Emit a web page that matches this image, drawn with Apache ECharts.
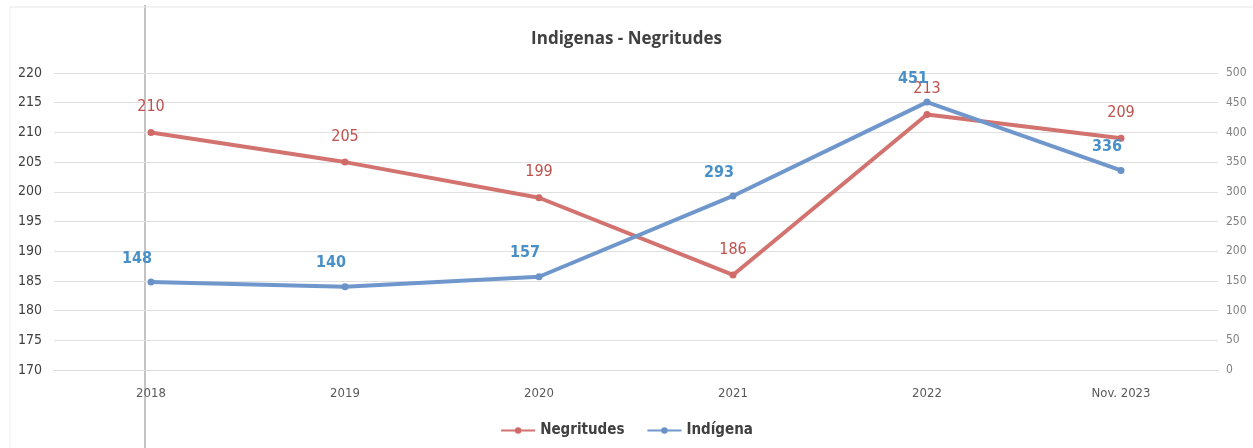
<!DOCTYPE html>
<html><head><meta charset="utf-8">
<script src="https://cdn.jsdelivr.net/npm/echarts@6/dist/echarts.min.js"></script>
<style>html,body{margin:0;padding:0;background:#fff}#c{width:1253px;height:448px}</style>
</head><body><div id="c"></div>
<script>
const categories = ['2018', '2019', '2020', '2021', '2022', 'Nov. 2023'];
const negritudes = [210, 205, 199, 186, 213, 209];
const indigena = [148, 140, 157, 293, 451, 336];
const titleText = 'Indigenas - Negritudes';

const FONT = '"Liberation Sans Narrow", "DejaVu Sans Condensed", "Open Sans", sans-serif';
const chart = echarts.init(document.getElementById('c'));
chart.setOption({
  backgroundColor: '#fff',
  animation: false,
  title: { text: titleText, left: 'center', top: 26,
    textStyle: { fontFamily: '"Open Sans", sans-serif', fontSize: 17, fontWeight: 'bold', color: '#404040' } },
  legend: { bottom: 5, left: 'center', itemWidth: 34, itemHeight: 8, itemGap: 22,
    textStyle: { fontFamily: FONT, fontSize: 15, fontWeight: 'bold', color: '#404040' },
    data: ['Negritudes', 'Indígena'] },
  grid: { left: 54, right: 35, top: 73, bottom: 78 },
  xAxis: { type: 'category', data: categories, boundaryGap: true,
    axisLine: { lineStyle: { color: '#d9d9d9' } }, axisTick: { show: false },
    axisLabel: { fontFamily: FONT, fontSize: 13, color: '#595959', margin: 17 } },
  yAxis: [
    { type: 'value', min: 170, max: 220, interval: 5, position: 'left',
      axisLine: { show: false }, axisTick: { show: false },
      splitLine: { lineStyle: { color: '#e0e0e0' } },
      axisLabel: { fontFamily: FONT, fontSize: 14, color: '#404040', margin: 12 } },
    { type: 'value', min: 0, max: 500, interval: 50, position: 'right',
      axisLine: { show: false }, axisTick: { show: false }, splitLine: { show: false },
      axisLabel: { fontFamily: FONT, fontSize: 12, color: '#808080', margin: 8 } }
  ],
  series: [
    { name: 'Negritudes', type: 'line', yAxisIndex: 0, data: negritudes,
      symbol: 'circle', symbolSize: 7, lineStyle: { width: 4, color: '#d27370' },
      itemStyle: { color: '#d06a68' },
      label: { show: true, position: 'top', distance: 14, fontFamily: FONT, fontSize: 16, color: '#c0504d' } },
    { name: 'Indígena', type: 'line', yAxisIndex: 1, data: indigena,
      symbol: 'circle', symbolSize: 7, lineStyle: { width: 4, color: '#7097cc' },
      itemStyle: { color: '#6a92c8' },
      label: { show: true, position: 'top', distance: 12, offset: [-14, 0], fontFamily: FONT, fontSize: 16, fontWeight: 'bold', color: '#4a90c8' } }
  ],
  graphic: [
    { type: 'line', shape: { x1: 145, y1: 5, x2: 145, y2: 448 }, style: { stroke: '#888', lineWidth: 1 } },
    { type: 'line', shape: { x1: 10, y1: 7, x2: 1253, y2: 7 }, style: { stroke: '#e6e6e6', lineWidth: 1 } },
    { type: 'line', shape: { x1: 10, y1: 7, x2: 10, y2: 448 }, style: { stroke: '#eeeeee', lineWidth: 1 } }
  ]
});
</script></body></html>
